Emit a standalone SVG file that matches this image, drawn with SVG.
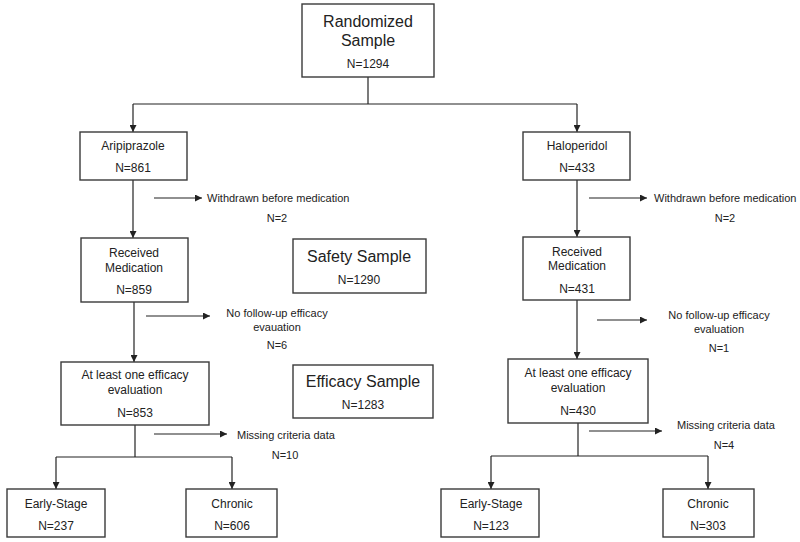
<svg xmlns="http://www.w3.org/2000/svg" width="800" height="542" viewBox="0 0 800 542">
<defs>
<style>
.box{fill:#fff;stroke:#3a3a3a;stroke-width:1.4}
.t{font-family:"Liberation Sans",Arial,sans-serif;font-size:12px;fill:#222;text-anchor:middle}
.big{font-size:16px}
.s{font-family:"Liberation Sans",Arial,sans-serif;font-size:11px;fill:#222}
.c{text-anchor:middle}
.ln{fill:none;stroke:#222;stroke-width:1.2}
</style>
<marker id="ah" viewBox="0 0 10 10" refX="10" refY="5" markerWidth="7" markerHeight="7" markerUnits="userSpaceOnUse" orient="auto"><path d="M0,0 L10,5 L0,10 z" fill="#222"/></marker>
</defs>
<rect width="800" height="542" fill="#fff"/>
<g id="connectors">
<path class="ln" d="M368,77 V104"/>
<path class="ln" d="M133,104 H577"/>
<path class="ln" d="M133,104 V132" marker-end="url(#ah)"/>
<path class="ln" d="M577,104 V132" marker-end="url(#ah)"/>
<path class="ln" d="M133,180 V238" marker-end="url(#ah)"/>
<path class="ln" d="M577,180 V237" marker-end="url(#ah)"/>
<path class="ln" d="M154,198 H202" marker-end="url(#ah)"/>
<path class="ln" d="M589,198 H647" marker-end="url(#ah)"/>
<path class="ln" d="M134,302 V362" marker-end="url(#ah)"/>
<path class="ln" d="M577,300 V359" marker-end="url(#ah)"/>
<path class="ln" d="M146,316 H210" marker-end="url(#ah)"/>
<path class="ln" d="M597,320 H647" marker-end="url(#ah)"/>
<path class="ln" d="M154,434 H227" marker-end="url(#ah)"/>
<path class="ln" d="M589,431 H662" marker-end="url(#ah)"/>
<path class="ln" d="M135,425 V457"/>
<path class="ln" d="M56,457 H232"/>
<path class="ln" d="M56,457 V489" marker-end="url(#ah)"/>
<path class="ln" d="M232,457 V489" marker-end="url(#ah)"/>
<path class="ln" d="M578,423 V456"/>
<path class="ln" d="M491,456 H708"/>
<path class="ln" d="M491,456 V489" marker-end="url(#ah)"/>
<path class="ln" d="M708,456 V489" marker-end="url(#ah)"/>
</g>
<g id="randomized">
<rect class="box" x="302" y="4" width="132" height="73"/>
<text class="t big" x="368" y="27">Randomized</text>
<text class="t big" x="368" y="46">Sample</text>
<text class="t" x="368" y="68">N=1294</text>
</g>
<g id="aripiprazole">
<rect class="box" x="80" y="132" width="107" height="48"/>
<text class="t" x="133" y="150">Aripiprazole</text>
<text class="t" x="133" y="172">N=861</text>
</g>
<g id="haloperidol">
<rect class="box" x="523" y="132" width="107" height="48"/>
<text class="t" x="577" y="150">Haloperidol</text>
<text class="t" x="577" y="172">N=433</text>
</g>
<g id="withdrawn-left">
<text class="s" x="207" y="202">Withdrawn before medication</text>
<text class="s c" x="277" y="222">N=2</text>
</g>
<g id="withdrawn-right">
<text class="s" x="654" y="202">Withdrawn before medication</text>
<text class="s c" x="725" y="222">N=2</text>
</g>
<g id="received-left">
<rect class="box" x="81" y="238" width="107" height="64"/>
<text class="t" x="134" y="257">Received</text>
<text class="t" x="134" y="272">Medication</text>
<text class="t" x="134" y="294">N=859</text>
</g>
<g id="received-right">
<rect class="box" x="523" y="237" width="107" height="63"/>
<text class="t" x="577" y="256">Received</text>
<text class="t" x="577" y="270">Medication</text>
<text class="t" x="577" y="293">N=431</text>
</g>
<g id="safety">
<rect class="box" x="293" y="239" width="133" height="54"/>
<text class="t big" x="359" y="262">Safety Sample</text>
<text class="t" x="359" y="284">N=1290</text>
</g>
<g id="efficacy">
<rect class="box" x="293" y="365" width="140" height="53"/>
<text class="t big" x="363" y="387">Efficacy Sample</text>
<text class="t" x="363" y="409">N=1283</text>
</g>
<g id="nofollow-left">
<text class="s c" x="277" y="317">No follow-up efficacy</text>
<text class="s c" x="277" y="331">evauation</text>
<text class="s c" x="277" y="349">N=6</text>
</g>
<g id="nofollow-right">
<text class="s c" x="719" y="319">No follow-up efficacy</text>
<text class="s c" x="719" y="333">evaluation</text>
<text class="s c" x="719" y="352">N=1</text>
</g>
<g id="atleast-left">
<rect class="box" x="61" y="362" width="148" height="63"/>
<text class="t" x="135" y="379">At least one efficacy</text>
<text class="t" x="135" y="394">evaluation</text>
<text class="t" x="135" y="417">N=853</text>
</g>
<g id="atleast-right">
<rect class="box" x="508" y="359" width="140" height="64"/>
<text class="t" x="578" y="377">At least one efficacy</text>
<text class="t" x="578" y="392">evaluation</text>
<text class="t" x="578" y="415">N=430</text>
</g>
<g id="missing-left">
<text class="s" x="237" y="439">Missing criteria data</text>
<text class="s c" x="285" y="459">N=10</text>
</g>
<g id="missing-right">
<text class="s" x="677" y="429">Missing criteria data</text>
<text class="s c" x="724" y="449">N=4</text>
</g>
<g id="early-left">
<rect class="box" x="7" y="489" width="98" height="48"/>
<text class="t" x="56" y="508">Early-Stage</text>
<text class="t" x="56" y="530">N=237</text>
</g>
<g id="chronic-left">
<rect class="box" x="186" y="489" width="91" height="48"/>
<text class="t" x="232" y="508">Chronic</text>
<text class="t" x="232" y="530">N=606</text>
</g>
<g id="early-right">
<rect class="box" x="441" y="489" width="98" height="48"/>
<text class="t" x="491" y="508">Early-Stage</text>
<text class="t" x="491" y="530">N=123</text>
</g>
<g id="chronic-right">
<rect class="box" x="663" y="489" width="91" height="48"/>
<text class="t" x="708" y="508">Chronic</text>
<text class="t" x="708" y="530">N=303</text>
</g>
</svg>
